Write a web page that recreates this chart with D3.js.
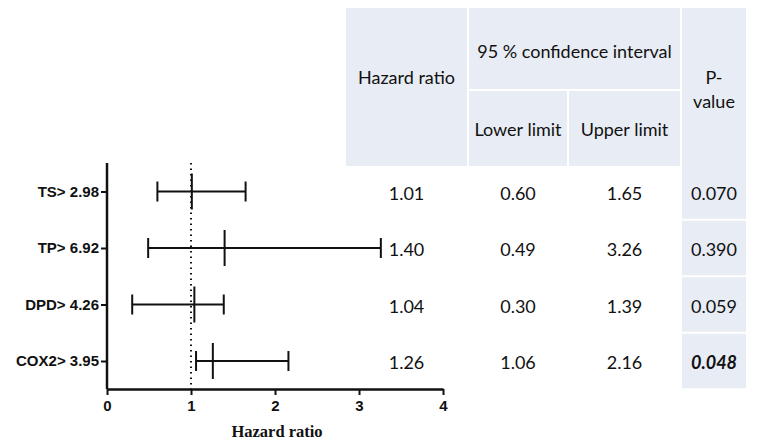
<!DOCTYPE html>
<html>
<head>
<meta charset="utf-8">
<script src="https://cdn.jsdelivr.net/npm/d3@7"></script>
<style>
  body { margin: 0; background: #fff; }
  svg { display: block; }
</style>
</head>
<body>
<div id="chart"></div>
<script>
// Data
const labels = ["TS> 2.98", "TP> 6.92", "DPD> 4.26", "COX2> 3.95"];
const hazard = [1.01, 1.40, 1.04, 1.26];
const lower = [0.60, 0.49, 0.30, 1.06];
const upper = [1.65, 3.26, 1.39, 2.16];
const pValues = ["0.070", "0.390", "0.059", "0.048"];
const significant = [false, false, false, true];
const xTicks = [0, 1, 2, 3, 4];

const WIDTH = 757;
const HEIGHT = 443;
const CELL = "#e8ecf4";
const TABLE_FONT = "Lato, 'Open Sans', sans-serif";
const TABLE_SIZE = 18;

const svg = d3
  .select("#chart")
  .append("svg")
  .attr("width", WIDTH)
  .attr("height", HEIGHT);

// Scales
const x = d3.scaleLinear().domain([0, 4]).range([107, 443]);
const y = d3.scalePoint().domain(labels).range([191.5, 361]);
const rowStep = y(labels[1]) - y(labels[0]);
const AXIS_TOP = 163;
const AXIS_Y = 389;

// Table columns (left, right)
const cols = {
  hr: [346, 467],
  ci: [469, 680],
  lo: [469, 567],
  up: [569, 680],
  p: [682, 746],
};
const mid = (c) => (c[0] + c[1]) / 2;

// Header cells
const head = svg.append("g");
const cells = [
  [cols.hr, 8, 166],
  [cols.ci, 8, 89],
  [cols.lo, 91, 166],
  [cols.up, 91, 166],
  [cols.p, 8, 166],
];
head
  .selectAll("rect")
  .data(cells)
  .enter()
  .append("rect")
  .attr("x", (d) => d[0][0])
  .attr("y", (d) => d[1])
  .attr("width", (d) => d[0][1] - d[0][0])
  .attr("height", (d) => d[2] - d[1])
  .attr("fill", CELL);

const headText = [
  ["Hazard ratio", mid(cols.hr), 78],
  ["95 % confidence interval", mid(cols.ci), 52],
  ["Lower limit", mid(cols.lo), 130],
  ["Upper limit", mid(cols.up), 130],
  ["P-", mid(cols.p), 78],
  ["value", mid(cols.p), 102],
];
head
  .selectAll("text")
  .data(headText)
  .enter()
  .append("text")
  .attr("x", (d) => d[1])
  .attr("y", (d) => d[2])
  .attr("dy", "0.35em")
  .attr("text-anchor", "middle")
  .style("font-family", TABLE_FONT)
  .style("font-size", TABLE_SIZE + "px")
  .attr("fill", "#111")
  .text((d) => d[0]);

// P-value cells
svg
  .append("g")
  .selectAll("rect")
  .data(labels)
  .enter()
  .append("rect")
  .attr("x", cols.p[0])
  .attr("y", (d) => y(d) - rowStep / 2 + 1)
  .attr("width", cols.p[1] - cols.p[0])
  .attr("height", rowStep - 2)
  .attr("fill", CELL);

// Table values
const rows = svg
  .append("g")
  .selectAll("g")
  .data(labels)
  .enter()
  .append("g")
  .attr("transform", (d) => "translate(0," + (y(d) + 2) + ")");

const valueCols = [
  [mid(cols.hr), (i) => hazard[i].toFixed(2)],
  [mid(cols.lo), (i) => lower[i].toFixed(2)],
  [mid(cols.up), (i) => upper[i].toFixed(2)],
  [mid(cols.p), (i) => pValues[i]],
];
rows.each(function (d, i) {
  const g = d3.select(this);
  valueCols.forEach((c, j) => {
    const t = g
      .append("text")
      .attr("x", c[0])
      .attr("dy", "0.35em")
      .attr("text-anchor", "middle")
      .style("font-family", TABLE_FONT)
      .style("font-size", TABLE_SIZE + "px")
      .attr("fill", "#111")
      .text(c[1](i));
    if (j === 3 && significant[i]) {
      t.style("font-weight", "bold").style("font-style", "italic");
    }
  });
});

// Reference line at HR = 1
svg
  .append("line")
  .attr("x1", x(1))
  .attr("x2", x(1))
  .attr("y1", AXIS_TOP)
  .attr("y2", AXIS_Y)
  .attr("stroke", "#111")
  .attr("stroke-width", 2)
  .attr("stroke-dasharray", "1.5,4");

// Error bars
const bars = svg
  .append("g")
  .selectAll("g")
  .data(labels)
  .enter()
  .append("g")
  .attr("stroke", "#111")
  .attr("stroke-width", 2);

bars
  .append("line")
  .attr("x1", (d, i) => x(lower[i]))
  .attr("x2", (d, i) => x(upper[i]))
  .attr("y1", (d) => y(d))
  .attr("y2", (d) => y(d));

[lower, upper].forEach((arr) => {
  bars
    .append("line")
    .attr("x1", (d, i) => x(arr[i]))
    .attr("x2", (d, i) => x(arr[i]))
    .attr("y1", (d) => y(d) - 10)
    .attr("y2", (d) => y(d) + 10);
});

bars
  .append("line")
  .attr("x1", (d, i) => x(hazard[i]))
  .attr("x2", (d, i) => x(hazard[i]))
  .attr("y1", (d) => y(d) - 18)
  .attr("y2", (d) => y(d) + 18);

// Axes
const xAxis = svg
  .append("g")
  .attr("transform", "translate(0," + AXIS_Y + ")")
  .call(
    d3
      .axisBottom(x)
      .tickValues(xTicks)
      .tickFormat(d3.format("d"))
      .tickSize(6)
      .tickSizeOuter(0)
  );

const yAxis = svg
  .append("g")
  .attr("transform", "translate(" + x(0) + ",0)")
  .call(d3.axisLeft(y).tickSize(6).tickSizeOuter(0));
yAxis.select(".domain").attr("d", "M0," + AXIS_TOP + "V" + AXIS_Y);

[xAxis, yAxis].forEach((a) => {
  a.attr("font-size", null).attr("font-family", null);
  a.select(".domain").attr("stroke", "#111").attr("stroke-width", 2.5);
  a.selectAll(".tick line").attr("stroke", "#111").attr("stroke-width", 2);
  a.selectAll(".tick text")
    .attr("fill", "#111")
    .style("font-family", "'Liberation Sans', Arial, sans-serif")
    .style("font-weight", "bold")
    .style("font-size", "15px");
});
xAxis.selectAll(".tick text").attr("dy", "0.85em");
yAxis.selectAll(".tick text").attr("x", -8);

// Axis title
svg
  .append("text")
  .attr("x", 277)
  .attr("y", 431)
  .attr("dy", "0.35em")
  .attr("text-anchor", "middle")
  .style("font-family", "'Liberation Serif', 'Times New Roman', serif")
  .style("font-weight", "bold")
  .style("font-size", "16.5px")
  .attr("fill", "#111")
  .text("Hazard ratio");
</script>
</body>
</html>
